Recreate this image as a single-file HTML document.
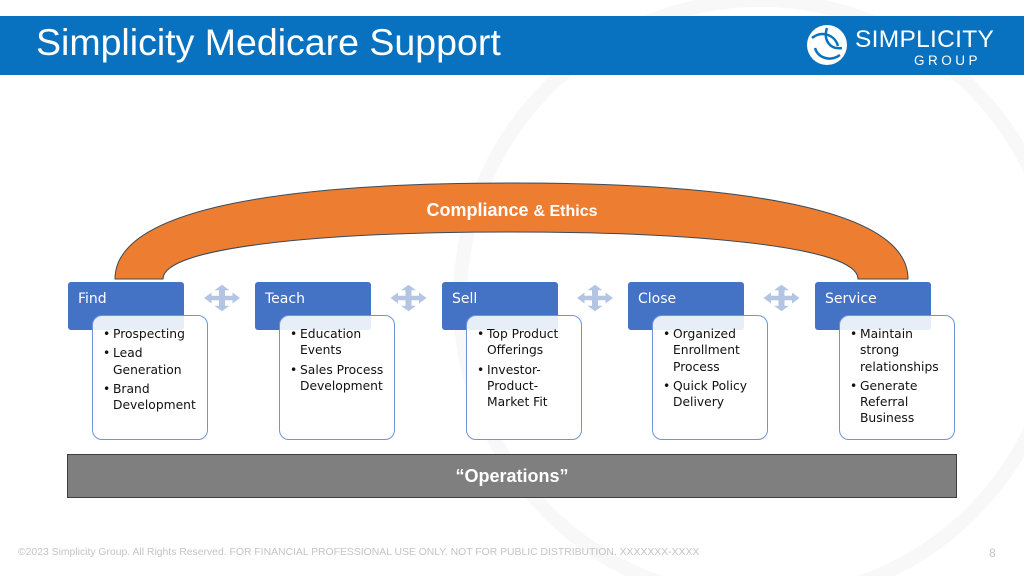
<!DOCTYPE html>
<html><head><meta charset="utf-8"><style>
body{margin:0;width:1024px;height:576px;position:relative;background:#fff;font-family:"Liberation Sans",sans-serif;overflow:hidden}
.hdr{position:absolute;left:0;top:16px;width:1024px;height:59px;background:#0872C0}
.title{position:absolute;left:36px;top:21px;font-size:37.5px;color:#fff}
.logo1{position:absolute;left:855px;top:26px;font-size:24.5px;color:#fff;letter-spacing:0.3px}
.logo2{position:absolute;left:914px;top:53px;font-size:13.5px;color:#fff;letter-spacing:3.5px}
.h{position:absolute;top:282px;width:116px;height:48px;background:#4472C4;border-radius:3px;color:#fff;font-family:"DejaVu Sans","Liberation Sans",sans-serif;font-size:14px;box-sizing:border-box;padding:9px 10px}
.c{position:absolute;top:315px;width:116px;height:125px;background:rgba(255,255,255,0.88);border:1.5px solid #6F94D9;border-radius:10px;box-sizing:border-box;padding:10px 4px 0 20px;font-family:"DejaVu Sans","Liberation Sans",sans-serif;font-size:12.3px;line-height:16.3px;color:#111}
.c div{position:relative;margin-bottom:3px}
.c div:before{content:"•";position:absolute;left:-10px}
.ops{position:absolute;left:67px;top:454px;width:890px;height:44px;background:#7F7F7F;border:1px solid #404040;box-sizing:border-box;color:#fff;font-weight:bold;font-size:18px;text-align:center;line-height:42px}
.ft{position:absolute;left:18px;top:547px;font-size:10.4px;color:#c4c4c4;white-space:nowrap}
.pg{position:absolute;left:989px;top:546px;font-size:12px;color:#c4c4c4}
</style></head><body>
<svg width="1024" height="576" style="position:absolute;left:0;top:0">
<circle cx="760" cy="300" r="300" fill="none" stroke="#f8f8f8" stroke-width="14"/>
<rect x="0" y="16" width="1024" height="59" fill="#0872C0"/>
<path d="M115,279 C115,205 300,183 511,183 C722,183 908,205 908,279 L858,279 C858,247 700,232 511,232 C322,232 163,247 163,279 Z" fill="#ED7D31" stroke="#3a4a5a" stroke-width="1"/>
<text x="512" y="216" text-anchor="middle" fill="#fff" font-family="Liberation Sans, sans-serif" font-weight="bold" font-size="18">Compliance <tspan font-size="16">&amp; Ethics</tspan></text>
<g fill="#B4C5E4">
<polygon id="a" points="0,-12 5,-7 2,-7 2,-2 7,-2 7,-5 12,0 7,5 7,2 2,2 2,7 5,7 0,12 -5,7 -2,7 -2,2 -7,2 -7,5 -12,0 -7,-5 -7,-2 -2,-2 -2,-7 -5,-7" transform="translate(222,298) scale(1.5,1.1)"/>
<use href="#a" transform="translate(186.5,0)"/>
<use href="#a" transform="translate(373,0)"/>
<use href="#a" transform="translate(559.5,0)"/>
</g>
<circle cx="827" cy="45" r="20" fill="#fff"/>
<path d="M812,38 C822,30 835,35 838,46 M840,55 C830,62 818,58 815,48 M827,28 C823,40 830,50 842,48" stroke="#0872C0" stroke-width="2.5" fill="none"/>
</svg>
<div class="title">Simplicity Medicare Support</div>
<div class="logo1">SIMPLICITY</div>
<div class="logo2">GROUP</div>

<div class="h" style="left:68px">Find</div>
<div class="c" style="left:92px"><div>Prospecting</div><div>Lead Generation</div><div>Brand Development</div></div>
<div class="h" style="left:255px">Teach</div>
<div class="c" style="left:279px"><div>Education Events</div><div>Sales Process Development</div></div>
<div class="h" style="left:442px">Sell</div>
<div class="c" style="left:466px"><div>Top Product Offerings</div><div>Investor-Product-Market Fit</div></div>
<div class="h" style="left:628px">Close</div>
<div class="c" style="left:652px"><div>Organized Enrollment Process</div><div>Quick Policy Delivery</div></div>
<div class="h" style="left:815px">Service</div>
<div class="c" style="left:839px"><div>Maintain strong relationships</div><div>Generate Referral Business</div></div>

<div class="ops">“Operations”</div>
<div class="ft">©2023 Simplicity Group. All Rights Reserved. FOR FINANCIAL PROFESSIONAL USE ONLY. NOT FOR PUBLIC DISTRIBUTION. XXXXXXX-XXXX</div>
<div class="pg">8</div>
</body></html>
